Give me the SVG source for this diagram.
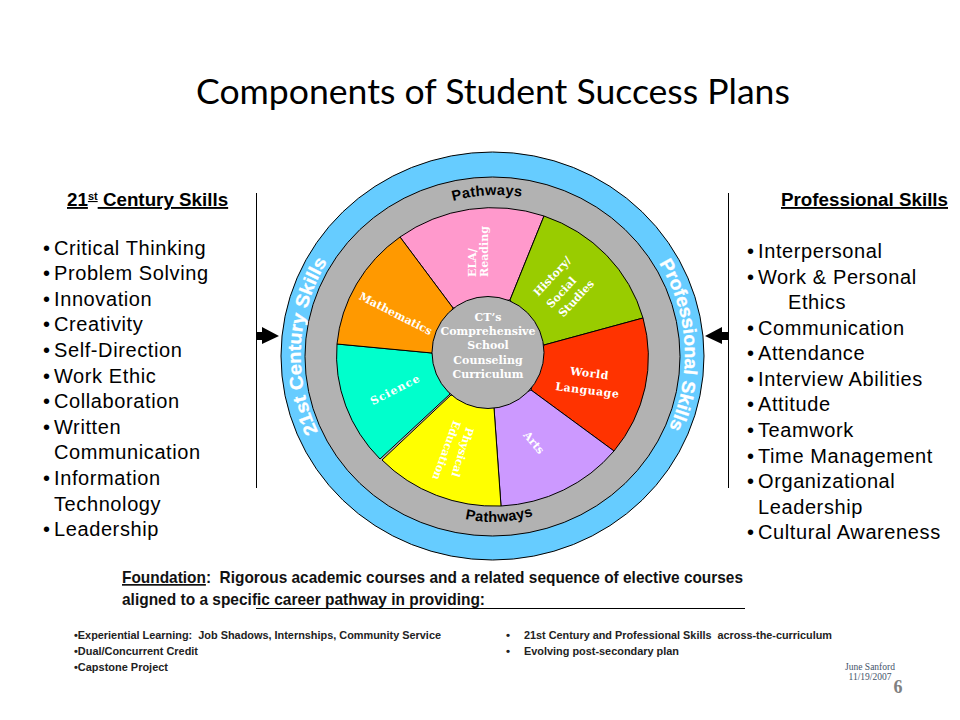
<svg xmlns="http://www.w3.org/2000/svg" width="960" height="720" viewBox="0 0 960 720">
<style>
.list{font-family:"Liberation Sans",Arial,sans-serif;font-size:20px;letter-spacing:.6px;fill:#000}
.head{font-family:"Liberation Sans",Arial,sans-serif;font-size:18.800px;font-weight:bold;fill:#000;text-decoration:underline}
.found{font-family:"Liberation Sans",Arial,sans-serif;font-size:17px;font-weight:bold;fill:#111;white-space:pre}
.small{font-family:"Liberation Sans",Arial,sans-serif;font-size:11.500px;font-weight:bold;fill:#222;white-space:pre}
.w{font-family:"DejaVu Serif",serif;font-size:11px;font-weight:bold;fill:#fff;text-anchor:middle}
.arc{font-family:"Liberation Sans",Arial,sans-serif;font-weight:bold;font-size:18.500px;fill:#fff;stroke:#fff;stroke-width:.3}
.pw{font-family:"Liberation Sans",Arial,sans-serif;font-weight:bold;font-size:14.500px;fill:#000;letter-spacing:.3px}
.s{stroke:#000;stroke-width:1}
.ln{stroke:#000;stroke-width:1;fill:none}
</style>
<defs>
<path id="p21" d="M318 432A193 185 0 0 1 335 250"/>
<path id="pPro" d="M659 263A191 183 0 0 1 663 440"/>
<path id="pTop" d="M453 201A170 170 0 0 1 524 197"/>
<path id="pBot" d="M465 519A130 130 0 0 0 532 516"/>
</defs>
<rect width="960" height="720" fill="#fff"/>
<g id="title"><text x="196" y="104" font-family="Lato,sans-serif" font-size="35.600" fill="#000">Components of Student Success Plans</text></g>
<g id="left-skills">
<text x="67" y="206" class="head">21<tspan font-size="11" dy="-6">st</tspan><tspan dy="6"> Century Skills</tspan></text>
<text class="list">
<tspan x="43" y="255">•</tspan><tspan x="54" y="255">Critical Thinking</tspan>
<tspan x="43" y="280">•</tspan><tspan x="54" y="280">Problem Solving</tspan>
<tspan x="43" y="306">•</tspan><tspan x="54" y="306">Innovation</tspan>
<tspan x="43" y="331">•</tspan><tspan x="54" y="331">Creativity</tspan>
<tspan x="43" y="357">•</tspan><tspan x="54" y="357">Self-Direction</tspan>
<tspan x="43" y="383">•</tspan><tspan x="54" y="383">Work Ethic</tspan>
<tspan x="43" y="408">•</tspan><tspan x="54" y="408">Collaboration</tspan>
<tspan x="43" y="434">•</tspan><tspan x="54" y="434">Written</tspan>
<tspan x="54" y="459">Communication</tspan>
<tspan x="43" y="485">•</tspan><tspan x="54" y="485">Information</tspan>
<tspan x="54" y="511">Technology</tspan>
<tspan x="43" y="536">•</tspan><tspan x="54" y="536">Leadership</tspan>
</text>
</g>
<g id="right-skills">
<text x="781" y="206" class="head">Professional Skills</text>
<text class="list">
<tspan x="747" y="258">•</tspan><tspan x="758" y="258">Interpersonal</tspan>
<tspan x="747" y="284">•</tspan><tspan x="758" y="284">Work &amp; Personal</tspan>
<tspan x="788" y="309">Ethics</tspan>
<tspan x="747" y="335">•</tspan><tspan x="758" y="335">Communication</tspan>
<tspan x="747" y="360">•</tspan><tspan x="758" y="360">Attendance</tspan>
<tspan x="747" y="386">•</tspan><tspan x="758" y="386">Interview Abilities</tspan>
<tspan x="747" y="411">•</tspan><tspan x="758" y="411">Attitude</tspan>
<tspan x="747" y="437">•</tspan><tspan x="758" y="437">Teamwork</tspan>
<tspan x="747" y="463">•</tspan><tspan x="758" y="463">Time Management</tspan>
<tspan x="747" y="488">•</tspan><tspan x="758" y="488">Organizational</tspan>
<tspan x="758" y="514">Leadership</tspan>
<tspan x="747" y="539">•</tspan><tspan x="758" y="539">Cultural Awareness</tspan>
</text>
</g>
<g id="connectors">
<line class="ln" x1="256.500" y1="193" x2="256.500" y2="488"/>
<line class="ln" x1="728.500" y1="193" x2="728.500" y2="488"/>
<path d="M257 332H262V327L279 336L262 344V340H257Z" fill="#000"/>
<path d="M728 332H722V327L705 336L722 344V340H728Z" fill="#000"/>
</g>
<g id="wheel">
<ellipse cx="492.500" cy="356" rx="211.500" ry="204" fill="#66ccff" class="s"/>
<ellipse cx="492.500" cy="356.500" rx="187.500" ry="179.500" fill="#b2b2b2" class="s"/>
<g id="slice-ela"><path d="M400 237A156 150 0 0 1 544 216L510 300L453 308Z" fill="#ff99cc" class="s"/><text class="w" style="text-anchor:start" transform="translate(476,277) rotate(-90)"><tspan x="0" y="0">ELA/</tspan><tspan x="0" y="12">Reading</tspan></text></g>
<g id="slice-history"><path d="M544 216A156 150 0 0 1 643 318L544 345L510 300Z" fill="#99cc00" class="s"/>
<text class="w" transform="translate(555,279) rotate(-47)">History/</text><text class="w" transform="translate(564,295) rotate(-47)">Social</text><text class="w" transform="translate(579,301) rotate(-47)">Studies</text></g>
<g id="slice-world"><path d="M643 318A156 150 0 0 1 614 451L531 390L544 345Z" fill="#ff3300" class="s"/>
<text class="w" style="letter-spacing:.5px" transform="translate(589,377) rotate(7)">World</text><text class="w" style="letter-spacing:.5px" transform="translate(587,394) rotate(7)">Language</text></g>
<g id="slice-arts"><path d="M614 451A156 150 0 0 1 501 506L494 408L531 390Z" fill="#cc99ff" class="s"/><text class="w" transform="translate(531,445) rotate(50)">Arts</text></g>
<g id="slice-pe"><path d="M501 506A156 150 0 0 1 382 460L451 395L494 408Z" fill="#ffff00" class="s"/>
<text class="w" transform="translate(459,451) rotate(107)">Physical</text><text class="w" transform="translate(443,449) rotate(110)">Education</text></g>
<g id="slice-science"><path d="M380 459A156 150 0 0 1 337 344L432 353L450 394Z" fill="#00ffcc" class="s"/><text class="w" style="letter-spacing:1px" transform="translate(397,393) rotate(-27)">Science</text></g>
<g id="slice-math"><path d="M337 344A156 150 0 0 1 400 237L453 308L432 353Z" fill="#ff9900" class="s"/><text class="w" transform="translate(394,317) rotate(27)">Mathematics</text></g>
<g id="hub"><ellipse cx="488" cy="352.500" rx="56" ry="56" fill="#b2b2b2" class="s"/>
<text class="w"><tspan x="488" y="321">CT’s</tspan><tspan x="488" y="335">Comprehensive</tspan><tspan x="488" y="349">School</tspan><tspan x="488" y="364">Counseling</tspan><tspan x="488" y="378">Curriculum</tspan></text></g>
<g id="ring-labels">
<text class="arc"><textPath href="#p21" textLength="178" lengthAdjust="spacingAndGlyphs">21st Century Skills</textPath></text>
<text class="arc"><textPath href="#pPro" textLength="172" lengthAdjust="spacingAndGlyphs">Professional Skills</textPath></text>
<text class="pw"><textPath href="#pTop">Pathways</textPath></text>
<text class="pw"><textPath href="#pBot">Pathways</textPath></text>
</g>
</g>
<g id="foundation">
<text class="found" x="122" y="583" textLength="621" lengthAdjust="spacingAndGlyphs"><tspan text-decoration="underline">Foundation</tspan>:  Rigorous academic courses and a related sequence of elective courses</text>
<text class="found" x="122" y="605" textLength="363" lengthAdjust="spacingAndGlyphs">aligned to a specific career pathway in providing:</text>
<line class="ln" x1="256" y1="608.500" x2="745" y2="608.500"/>
</g>
<g id="bullets">
<text class="small" x="74" y="639" textLength="367" lengthAdjust="spacingAndGlyphs">•Experiential Learning:  Job Shadows, Internships, Community Service</text>
<text class="small" x="74" y="655" textLength="124" lengthAdjust="spacingAndGlyphs">•Dual/Concurrent Credit</text>
<text class="small" x="74" y="671" textLength="94" lengthAdjust="spacingAndGlyphs">•Capstone Project</text>
<text class="small" x="506" y="639">•</text><text class="small" x="524" y="639" textLength="308" lengthAdjust="spacingAndGlyphs">21st Century and Professional Skills  across-the-curriculum</text>
<text class="small" x="506" y="655">•</text><text class="small" x="524" y="655" textLength="155" lengthAdjust="spacingAndGlyphs">Evolving post-secondary plan</text>
</g>
<g id="footer">
<text x="870" y="670" text-anchor="middle" font-family="Liberation Serif,serif" font-size="9.500" fill="#44546a">June Sanford</text>
<text x="870" y="680" text-anchor="middle" font-family="Liberation Serif,serif" font-size="9.500" fill="#44546a">11/19/2007</text>
<text x="898" y="693" text-anchor="middle" font-family="Liberation Serif,serif" font-size="18" font-weight="bold" fill="#808080">6</text>
</g>
</svg>
